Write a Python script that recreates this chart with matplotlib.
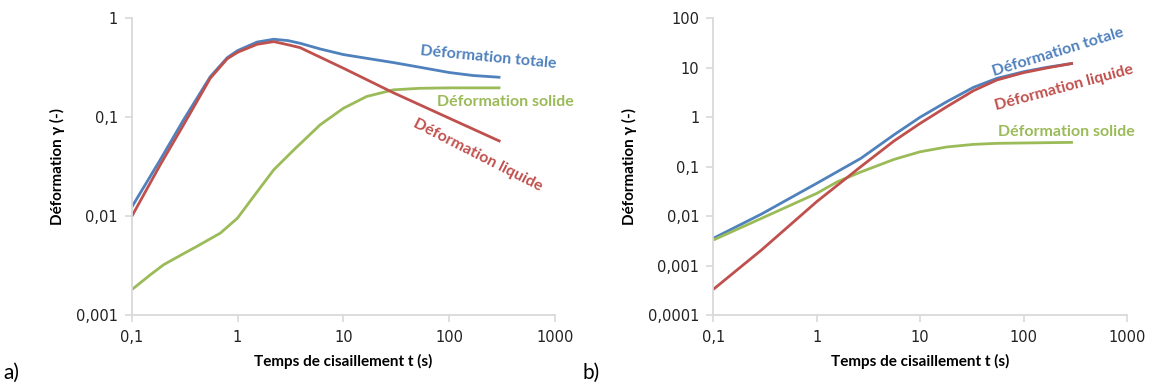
import matplotlib
matplotlib.use("Agg")
import matplotlib.pyplot as plt
from matplotlib.ticker import FixedLocator, FixedFormatter, NullLocator

# ---------------- data ----------------
# panel a)
t_a_tot = [0.1, 0.186, 0.309, 0.553, 0.8, 1.0, 1.53, 2.2, 3.0, 3.9, 6.03, 10, 16.6, 29.6, 52.8, 100, 168, 305]
y_a_tot = [0.0123, 0.0371, 0.094, 0.257, 0.40, 0.471, 0.575, 0.614, 0.595, 0.559, 0.49, 0.43, 0.394, 0.357, 0.320, 0.283, 0.264, 0.253]

t_a_liq = [0.1, 0.186, 0.309, 0.553, 0.8, 1.0, 1.53, 2.2, 3.0, 3.9, 10, 29.6, 100, 305]
y_a_liq = [0.0099, 0.033, 0.0837, 0.248, 0.39, 0.453, 0.546, 0.581, 0.54, 0.505, 0.313, 0.177, 0.0977, 0.0568]

t_a_sol = [0.1, 0.15, 0.2, 0.3, 0.413, 0.688, 1.0, 1.42, 2.2, 3.41, 6.03, 10, 16.6, 29.6, 52.8, 100, 305]
y_a_sol = [0.0018, 0.00255, 0.00322, 0.0041, 0.00494, 0.00673, 0.00955, 0.0158, 0.0294, 0.0468, 0.0837, 0.123, 0.162, 0.189, 0.196, 0.198, 0.198]

# panel b)
t_b_tot = [0.1, 0.292, 1.0, 2.67, 5.58, 10, 18.1, 32.8, 55.2, 100, 168, 300]
y_b_tot = [0.00355, 0.011, 0.046, 0.147, 0.44, 1.0, 2.06, 4.02, 6.1, 8.3, 10.2, 12.3]

t_b_liq = [0.1, 0.292, 1.0, 2.67, 5.58, 10, 18.1, 32.8, 55.2, 100, 168, 300]
y_b_liq = [0.00033, 0.00206, 0.0196, 0.1, 0.33, 0.75, 1.63, 3.44, 5.66, 7.96, 9.9, 12.3]

t_b_sol = [0.1, 0.292, 1.0, 1.59, 2.67, 5.58, 10, 18.1, 32.8, 55.2, 100, 300]
y_b_sol = [0.00328, 0.009, 0.0288, 0.0497, 0.078, 0.14, 0.2, 0.25, 0.282, 0.296, 0.301, 0.31]

x_ticks = [0.1, 1, 10, 100, 1000]
x_labels = ["0,1", "1", "10", "100", "1000"]
ya_ticks = [0.001, 0.01, 0.1, 1]
ya_labels = ["0,001", "0,01", "0,1", "1"]
yb_ticks = [0.0001, 0.001, 0.01, 0.1, 1, 10, 100]
yb_labels = ["0,0001", "0,001", "0,01", "0,1", "1", "10", "100"]

lbl_tot = "Déformation totale"
lbl_liq = "Déformation liquide"
lbl_sol = "Déformation solide"
xlabel = "Temps de cisaillement t (s)"
ylabel = "Déformation γ (-)"

BLUE = "#4F81BD"
RED = "#C0504D"
GREEN = "#9BBB59"
GRID = "#D9D9D9"

W, H = 1152, 388
fig = plt.figure(figsize=(W / 100, H / 100), dpi=100)

LF = ["Lato", "DejaVu Sans"]


def setup(ax, yticks, ylabels, ylim):
    ax.set_xscale("log")
    ax.set_yscale("log")
    ax.set_xlim(0.1, 1000)
    ax.set_ylim(*ylim)
    for s in ("top", "right"):
        ax.spines[s].set_visible(False)
    for s in ("left", "bottom"):
        ax.spines[s].set_color(GRID)
        ax.spines[s].set_linewidth(1.3)
    ax.xaxis.set_major_locator(FixedLocator(x_ticks))
    ax.xaxis.set_major_formatter(FixedFormatter(x_labels))
    ax.xaxis.set_minor_locator(NullLocator())
    ax.yaxis.set_major_locator(FixedLocator(yticks))
    ax.yaxis.set_major_formatter(FixedFormatter(ylabels))
    ax.yaxis.set_minor_locator(NullLocator())
    ax.tick_params(axis="both", which="major", length=5, width=1.2, color=GRID,
                   labelsize=10.5, labelcolor="#222222", direction="out")
    ax.tick_params(axis="x", pad=6)
    ax.tick_params(axis="y", pad=5)
    ax.set_xlabel(xlabel, fontsize=11, fontweight="bold", family=LF, labelpad=6)
    ax.set_ylabel(ylabel, fontsize=11, fontweight="bold", family=LF, labelpad=8)


# axes positions in figure fraction
ax1 = fig.add_axes([131.7 / W, 1 - 315 / H, 423.3 / W, (315 - 18.3) / H])
ax2 = fig.add_axes([713.3 / W, 1 - 315 / H, 413.7 / W, (315 - 18.3) / H])

setup(ax1, ya_ticks, ya_labels, (0.001, 1))
setup(ax2, yb_ticks, yb_labels, (0.0001, 100))

lw = 2.0
ax1.plot(t_a_sol, y_a_sol, color=GREEN, lw=lw, solid_capstyle="butt")
ax1.plot(t_a_tot, y_a_tot, color=BLUE, lw=lw, solid_capstyle="butt")
ax1.plot(t_a_liq, y_a_liq, color=RED, lw=lw, solid_capstyle="butt")

ax2.plot(t_b_tot, y_b_tot, color=BLUE, lw=lw, solid_capstyle="butt")
ax2.plot(t_b_sol, y_b_sol, color=GREEN, lw=lw, solid_capstyle="butt")
ax2.plot(t_b_liq, y_b_liq, color=RED, lw=lw, solid_capstyle="butt")

fs = 11.5


def ftext(x, y, s, color, rot=0):
    fig.text(x / W, 1 - y / H, s, color=color, fontsize=fs, fontweight="bold",
             family=LF, rotation=rot, rotation_mode="anchor", ha="center", va="center")


ftext(488, 58, lbl_tot, BLUE, -5.5)
ftext(505, 102, lbl_sol, GREEN, 0)
ftext(478, 155, lbl_liq, RED, -27)

ftext(1058, 52, lbl_tot, BLUE, 17)
ftext(1064, 88, lbl_liq, RED, 15)
ftext(1066, 132, lbl_sol, GREEN, 0)

fig.text(3 / W, 1 - 373 / H, "a)", fontsize=15, family=LF, ha="left", va="center")
fig.text(583 / W, 1 - 373 / H, "b)", fontsize=15, family=LF, ha="left", va="center")

fig.savefig("out.png", dpi=100, facecolor="white")
